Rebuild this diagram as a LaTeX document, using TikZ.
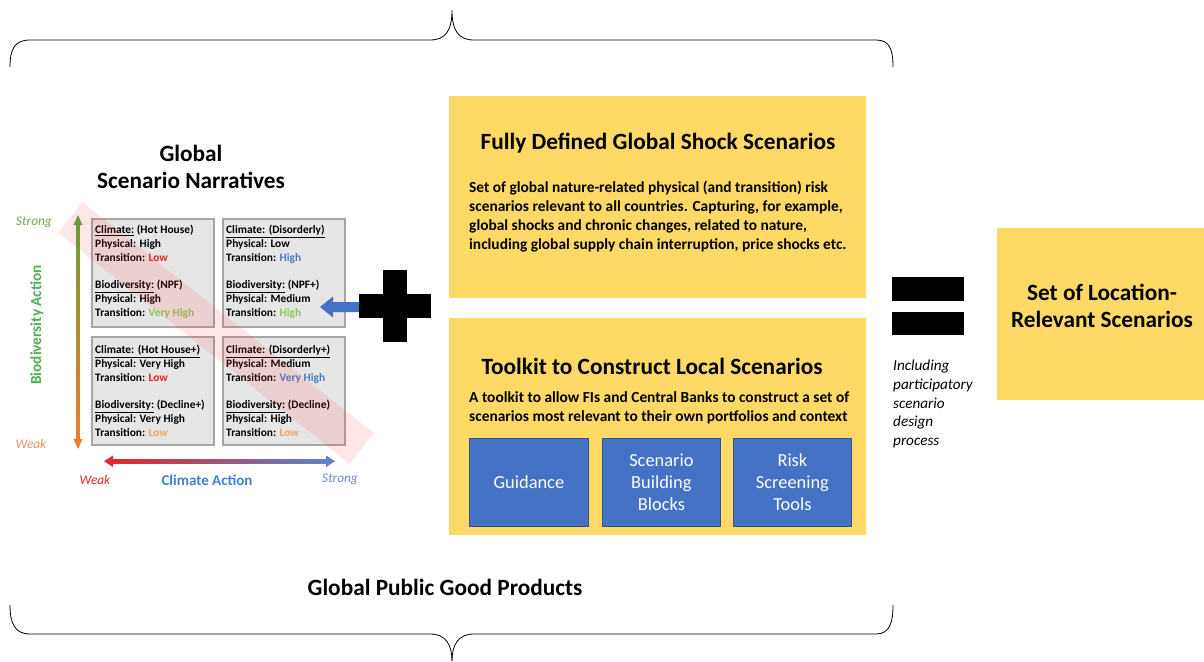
\documentclass[tikz,border=0pt]{standalone}
\usepackage{fontspec}
\setmainfont{Carlito}
\definecolor{gold}{HTML}{FFD966}
\definecolor{cblue}{HTML}{4472C4}
\definecolor{cbdark}{HTML}{2F528F}
\definecolor{qfill}{HTML}{E7E6E6}
\definecolor{qline}{HTML}{A6A6A6}
\definecolor{lowred}{HTML}{E8202A}
\definecolor{hiblue}{HTML}{4A7CC8}
\definecolor{higreen}{HTML}{8CC85A}
\definecolor{loworange}{HTML}{F4A460}
\definecolor{biogreen}{HTML}{4CAF50}
\definecolor{strgreen}{HTML}{70AD47}
\definecolor{weakor}{HTML}{E89060}
\definecolor{axgreen}{HTML}{6E9A3A}
\definecolor{axorange}{HTML}{ED7D31}
\definecolor{axred}{HTML}{E02828}
\definecolor{axblue}{HTML}{5B84C8}
\definecolor{climblue}{HTML}{3F7FD0}
\definecolor{strblue}{HTML}{6A8AC0}
\begin{document}
\begin{tikzpicture}[x=1pt,y=-1pt,
  brace/.style={draw=black, line width=0.8pt},
  goldbox/.style={fill=gold, draw=none, inner sep=0pt, outer sep=0pt, anchor=north west},
  bluebox/.style={fill=cblue, draw=cbdark, line width=0.8pt, inner sep=0pt, anchor=north west,
     minimum width=118pt, minimum height=88pt, text=white, align=center,
     font=\fontsize{18.4}{22}\selectfont},
  quad/.style={fill=qfill, draw=qline, line width=1.5pt, inner sep=0pt, anchor=north west,
     minimum width=122pt, minimum height=108pt},
  qtext/.style={anchor=north west, inner sep=0pt, align=left, font=\fontsize{11.4}{14}\selectfont\bfseries},
  bigtitle/.style={font=\fontsize{23.3}{27}\selectfont\bfseries, align=center, inner sep=0pt},
  bodytext/.style={font=\fontsize{15.4}{19}\selectfont\bfseries, align=left, inner sep=0pt, anchor=north west},
  blackbar/.style={fill=black, draw=none}
]
\useasboundingbox (0,0) rectangle (1204,661);

% braces
\draw[brace] (10,67) .. controls (10,50) and (14,40) .. (30,40) -- (430,40)
  .. controls (446,40) and (452,30) .. (452,10)
  .. controls (452,30) and (458,40) .. (474,40) -- (876,40)
  .. controls (890,40) and (893,50) .. (893,67);
\draw[brace] (10,605) .. controls (10,622) and (14,634) .. (30,634) -- (430,634)
  .. controls (446,634) and (452,645) .. (452,661);
\draw[brace] (452,661) .. controls (452,645) and (458,634) .. (474,634) -- (876,634)
  .. controls (890,634) and (893,622) .. (893,605);
\node[bigtitle] (gpg) at (445,587) {Global Public Good Products};

% left title
\node[bigtitle] (gsn) at (191,167) {Global\\Scenario Narratives};

% quadrants
\node[quad] (q1) at (91,218) {};
\node[quad] (q2) at (222,218) {};
\node[quad] (q3) at (91,336) {};
\node[quad] (q4) at (222,336) {};

\node[qtext] (t1) at (95,225) {\underline{Climate:} (Hot House)\\Physical: High\\Transition: \textcolor{lowred}{Low}\\[13pt]
\underline{Biodiversity:} (NPF)\\Physical: High\\Transition: \textcolor{higreen}{Very High}};
\node[qtext] (t2) at (226,225) {\underline{Climate: (Disorderly)}\\Physical: Low\\Transition: \textcolor{hiblue}{High}\\[13pt]
\underline{Biodiversity:} (NPF+)\\Physical: Medium\\Transition: \textcolor{higreen}{High}};
\node[qtext] (t3) at (95,345) {\underline{Climate: (Hot House+)}\\Physical: Very High\\Transition: \textcolor{lowred}{Low}\\[13pt]
\underline{Biodiversity:} (Decline+)\\Physical: Very High\\Transition: \textcolor{loworange}{Low}};
\node[qtext] (t4) at (226,345) {\underline{Climate: (Disorderly+)}\\Physical: Medium\\Transition: \textcolor{hiblue}{Very High}\\[13pt]
\underline{Biodiversity:} (Decline)\\Physical: High\\Transition: \textcolor{loworange}{Low}};

% watermark band
\fill[red!75, opacity=0.13, rotate around={-38.4:(216,333)}] (30,313.5) rectangle (402,352.5);

% vertical axis arrow
\shade[top color=axgreen, bottom color=axorange] (76.5,224) rectangle (79.5,440);
\fill[axgreen] (73.5,225) -- (78,215) -- (82.5,225) -- cycle;
\fill[axorange] (73.5,439) -- (78,449) -- (82.5,439) -- cycle;
\node[font=\fontsize{13.3}{13}\selectfont\itshape, text=strgreen] (vs) at (34,222) {Strong};
\node[font=\fontsize{13.3}{13}\selectfont\itshape, text=weakor] (vw) at (31,444) {Weak};
\node[rotate=90, font=\fontsize{15.3}{15}\selectfont\bfseries, text=biogreen] (ba) at (37,325) {Biodiversity Action};

% horizontal axis arrow
\shade[left color=axred, right color=axblue] (112,459) rectangle (327,463.5);
\fill[axred] (113,455.5) -- (104,461.2) -- (113,467) -- cycle;
\fill[axblue] (326,455.5) -- (335,461.2) -- (326,467) -- cycle;
\node[font=\fontsize{13.3}{13}\selectfont\itshape, text=axred] (hw) at (95,480) {Weak};
\node[font=\fontsize{15}{15}\selectfont\bfseries, text=climblue] (ca) at (207,480) {Climate Action};
\node[font=\fontsize{13.3}{13}\selectfont\itshape, text=strblue] (hs) at (340,479) {Strong};

% blue arrow into top-right quadrant
\fill[cblue] (320,307) -- (333,296.5) -- (333,302) -- (365,302) -- (365,312) -- (333,312) -- (333,317.5) -- cycle;

% plus sign
\fill[blackbar] (383,270) rectangle (407,342);
\fill[blackbar] (359,294) rectangle (431,318);

% top gold box
\node[goldbox, minimum width=417pt, minimum height=202pt] (fd) at (449,96) {};
\node[bigtitle] (fdt) at (658,143) {Fully Defined Global Shock Scenarios};
\node[bodytext] (fdb) at (469,181) {Set of global nature-related physical (and transition) risk\\
scenarios relevant to all countries. Capturing, for example,\\
global shocks and chronic changes, related to nature,\\
including global supply chain interruption, price shocks etc.};

% bottom gold box
\node[goldbox, minimum width=417pt, minimum height=217pt] (tk) at (449,318) {};
\node[bigtitle] (tkt) at (652,366) {Toolkit to Construct Local Scenarios};
\node[bodytext] (tkb) at (469,391) {A toolkit to allow FIs and Central Banks to construct a set of\\
scenarios most relevant to their own portfolios and context};
\node[bluebox, minimum width=119pt] (b1) at (469,438) {Guidance};
\node[bluebox] (b2) at (602,438) {Scenario\\Building\\Blocks};
\node[bluebox] (b3) at (733,438) {Risk\\Screening\\Tools};

% equals
\fill[blackbar] (892,277) rectangle (964,301);
\fill[blackbar] (892,312) rectangle (964,335);
\node[anchor=north west, inner sep=0pt, align=left, font=\fontsize{15.2}{18.7}\selectfont\itshape] (inc) at (893,360)
  {Including\\participatory\\scenario\\design\\process};

% right gold box
\node[goldbox, minimum width=208pt, minimum height=172pt] (loc) at (997,228) {};
\node[bigtitle] (loct) at (1102,306) {Set of Location-\\Relevant Scenarios};
\end{tikzpicture}
\end{document}
